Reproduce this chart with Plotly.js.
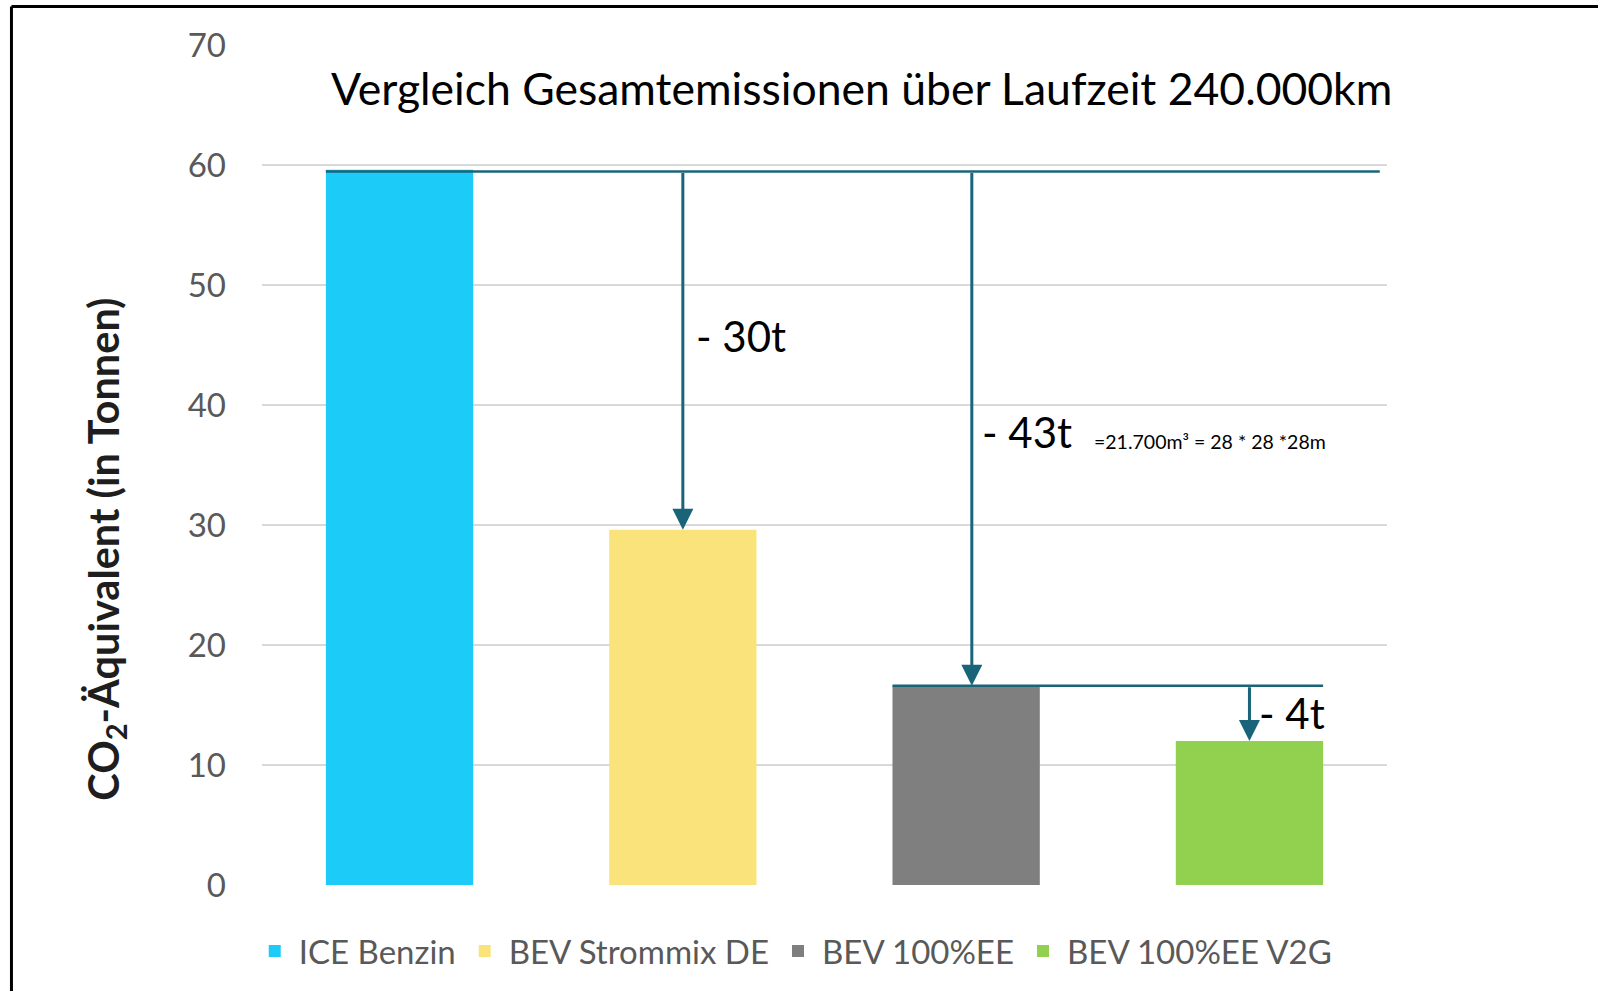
<!DOCTYPE html>
<html>
<head>
<meta charset="utf-8">
<script src="https://cdn.plot.ly/plotly-3.0.1.min.js"></script>
<style>
html,body{margin:0;padding:0;background:#fff;}
#chart{width:1598px;height:991px;}
</style>
</head>
<body>
<div id="chart"></div>
<script>
// ---- data ----
const categories = ["ICE Benzin", "BEV Strommix DE", "BEV 100%EE", "BEV 100%EE V2G"];
const values = [59.6, 29.6, 16.6, 12.0];
const colors = ["#1ccbf8", "#fbe37b", "#7f7f7f", "#92d050"];
const yTicks = [0, 10, 20, 30, 40, 50, 60, 70];
const savingLabels = ["- 30t", "- 43t", "- 4t"];
const volumeNote = "=21.700m³ = 28 * 28 *28m";
const titleText = "Vergleich Gesamtemissionen über Laufzeit 240.000km";
const yTitle = "CO<sub>2</sub>-Äquivalent (in Tonnen)";

const FONT = "Lato, 'Open Sans', sans-serif";
const ARROW = "#1a6479";
const BW = 0.52;

const traces = categories.map((c, i) => ({
  type: "bar",
  name: c,
  x: [i],
  y: [values[i]],
  width: BW,
  marker: {color: colors[i]},
  hoverinfo: "skip"
}));

const shapes = [
  // reference line from ICE level
  {type: "line", xref: "x", yref: "y", x0: 0 - BW/2, x1: 3.46, y0: values[0] - 0.15, y1: values[0] - 0.15,
   line: {color: ARROW, width: 2.5}},
  // reference line from BEV 100%EE level
  {type: "line", xref: "x", yref: "y", x0: 2 - BW/2, x1: 3 + BW/2, y0: values[2], y1: values[2],
   line: {color: ARROW, width: 2.5}},
  // frame (left + top)
  {type: "line", xref: "paper", yref: "paper", x0: -0.2227, x1: -0.2227, y0: -0.2, y1: 1.0458,
   line: {color: "#000", width: 3}},
  {type: "line", xref: "paper", yref: "paper", x0: -0.2227, x1: 1.2, y0: 1.0458, y1: 1.0458,
   line: {color: "#000", width: 3}}
];

function arrow(xi, yFrom, yTo) {
  return {xref: "x", yref: "y", axref: "x", ayref: "y",
    x: xi, y: yTo, ax: xi, ay: yFrom, text: "", showarrow: true,
    arrowhead: 2, arrowsize: 1.4, arrowwidth: 3, arrowcolor: ARROW, standoff: 0, startstandoff: 0};
}

const annotations = [
  arrow(1, values[0] - 0.15, values[1]),
  arrow(2.02, values[0] - 0.15, values[2]),
  arrow(3, values[2], values[3]),
  {xref: "x", yref: "y", x: 1.04, y: 45.75, xanchor: "left", yanchor: "middle", showarrow: false,
   text: savingLabels[0], font: {family: FONT, size: 42, color: "#000"}},
  {xref: "x", yref: "y", x: 2.05, y: 37.75, xanchor: "left", yanchor: "middle", showarrow: false,
   text: savingLabels[1], font: {family: FONT, size: 42, color: "#000"}},
  {xref: "x", yref: "y", x: 2.445, y: 37.0, xanchor: "left", yanchor: "middle", showarrow: false,
   text: volumeNote, font: {family: FONT, size: 19.5, color: "#000"}},
  {xref: "x", yref: "y", x: 3.028, y: 14.3, xanchor: "left", yanchor: "middle", showarrow: false,
   text: savingLabels[2], font: {family: FONT, size: 42, color: "#000"}},
  {xref: "paper", yref: "paper", x: -0.139, y: 0.40, xanchor: "center", yanchor: "middle", showarrow: false,
   textangle: -90, text: yTitle, font: {family: FONT, size: 41.5, color: "#1e1e1e", weight: "bold"}}
];

const layout = {
  width: 1598, height: 991,
  margin: {l: 262, r: 211, t: 45, b: 106, pad: 0},
  paper_bgcolor: "#fff", plot_bgcolor: "#fff",
  showlegend: true,
  barmode: "overlay",
  title: {text: titleText, font: {family: FONT, size: 44.5, color: "#000"},
          xref: "paper", x: 0.533, xanchor: "center", yref: "container", y: 1 - 89/991, yanchor: "middle"},
  xaxis: {range: [-0.4855, 3.4855], showticklabels: false, showgrid: false, zeroline: false, showline: false, ticks: "",
          fixedrange: true},
  yaxis: {range: [0, 70], tickvals: yTicks, showgrid: true, gridcolor: "#d9d9d9", gridwidth: 2,
          zeroline: false, showline: false, ticks: "", ticklabelstandoff: 35,
          tickfont: {family: FONT, size: 33, color: "#595959"}},
  legend: {orientation: "h", x: -0.01, xanchor: "left", y: -0.0786, yanchor: "middle", itemwidth: 38,
           font: {family: FONT, size: 33, color: "#595959"}, itemclick: false, traceorder: "normal"},
  shapes: shapes,
  annotations: annotations
};

Plotly.newPlot("chart", traces, layout, {displayModeBar: false, staticPlot: true});
</script>
</body>
</html>
